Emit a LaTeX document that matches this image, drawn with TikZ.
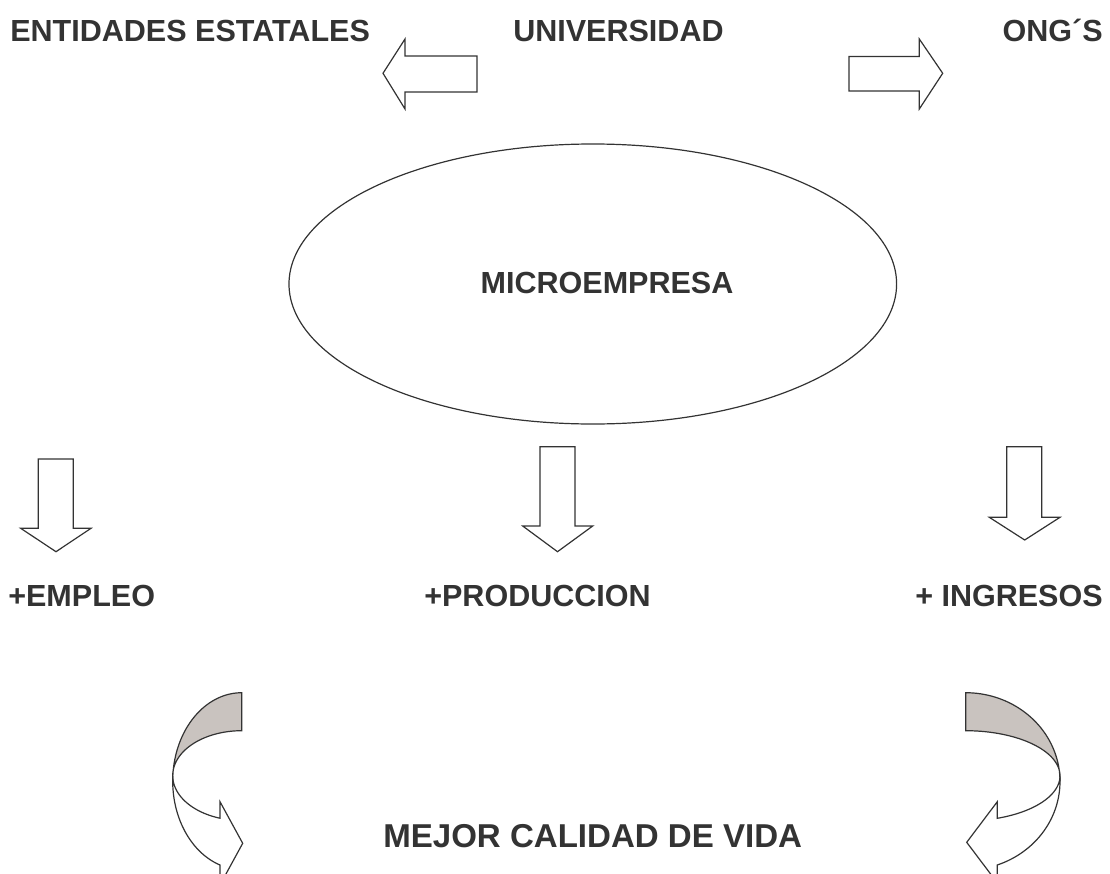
\documentclass[tikz,border=0pt]{standalone}
\usepackage{fontspec}
\setmainfont{Liberation Sans}
\usetikzlibrary{shapes.geometric}
\definecolor{ink}{RGB}{51,51,51}
\definecolor{band}{RGB}{201,195,191}
\tikzset{
  lbl/.style={inner sep=0pt, text=ink, font=\bfseries\fontsize{22.9}{27}\selectfont},
  biglbl/.style={inner sep=0pt, text=ink, font=\bfseries\fontsize{24.8}{30}\selectfont},
  blockarrow/.style={draw=ink, line width=0.9pt, fill=white, line join=miter},
  bandfill/.style={fill=band},
  bandline/.style={draw=ink, line width=0.9pt, fill=white, line join=miter}
}
\begin{document}
\begin{tikzpicture}[x=0.75pt,y=-0.75pt]
\path[use as bounding box] (0,0) rectangle (1110,874);
\clip (0,0) rectangle (1110,874);
% texts
\node[lbl, anchor=base west] (ent) at (10,41.7) {ENTIDADES ESTATALES};
\node[lbl, anchor=base west] (uni) at (513,41.7) {UNIVERSIDAD};
\node[lbl, anchor=base east] (ong) at (1103,41.7) {ONG´S};
\node[draw=ink, line width=0.9pt, ellipse, minimum width=455.7pt, minimum height=210pt, inner sep=0pt] (micro) at (592.8,284) {};
\node[lbl, anchor=base] (microt) at (607,293) {MICROEMPRESA};
\node[lbl, anchor=base west] (emp) at (8,606) {+EMPLEO};
\node[lbl, anchor=base west] (prod) at (424,606) {+PRODUCCION};
\node[lbl, anchor=base east] (ing) at (1103,606) {+ INGRESOS};
\node[biglbl, anchor=base west] (mej) at (383,847) {MEJOR CALIDAD DE VIDA};
% top block arrows
\draw[blockarrow] (477,56) -- (405,56) -- (405,39) -- (383,73.3) -- (405,109) -- (405,92) -- (477,92) -- cycle;
\draw[blockarrow] (849,56.5) -- (919.3,56.5) -- (919.3,39) -- (942.7,73.3) -- (919.3,109) -- (919.3,91) -- (849,91) -- cycle;
% down block arrows
\draw[blockarrow] (38.3,459) -- (73.3,459) -- (73.3,528.3) -- (91,528.3) -- (56,551.7) -- (20.7,528.3) -- (38.3,528.3) -- cycle;
\draw[blockarrow] (540,446.7) -- (575,446.7) -- (575,526) -- (592.7,526) -- (557.5,551.7) -- (522.7,526) -- (540,526) -- cycle;
\draw[blockarrow] (1006.7,446.7) -- (1041.7,446.7) -- (1041.7,517.3) -- (1060,517.3) -- (1024.7,540) -- (989.3,517.3) -- (1006.7,517.3) -- cycle;
% left curved arrow
\path[bandfill] plot[domain=270:180, samples=40, variable=\t] ({241.7+69*cos(\t)},{781.1+88.4*sin(\t)})
  -- plot[domain=180:270, samples=40, variable=\t] ({241.7+69*cos(\t)},{775.6+44.9*sin(\t)}) -- cycle;
\draw[bandline] plot[domain=180:108.33, samples=40, variable=\t] ({241.7+69*cos(\t)},{781.1+88.4*sin(\t)})
  -- (220,884.9) -- (242.7,843.3) -- (220,801.7) --
  plot[domain=108.33:180, samples=40, variable=\t] ({241.7+69*cos(\t)},{775.6+44.9*sin(\t)}) -- cycle;
\draw[draw=ink, line width=0.9pt, line join=miter] plot[domain=180:270, samples=40, variable=\t] ({241.7+69*cos(\t)},{781.1+88.4*sin(\t)})
  -- plot[domain=270:180, samples=40, variable=\t] ({241.7+69*cos(\t)},{775.6+44.9*sin(\t)});
% right curved arrow
\path[bandfill] plot[domain=-90:0, samples=40, variable=\t] ({965.7+94.3*cos(\t)},{781.4+88.7*sin(\t)})
  -- plot[domain=0:-90, samples=40, variable=\t] ({965.7+94.3*cos(\t)},{775.8+45.1*sin(\t)}) -- cycle;
\draw[bandline] plot[domain=0:70.42, samples=40, variable=\t] ({965.7+94.3*cos(\t)},{781.4+88.7*sin(\t)})
  -- (997.3,882.9) -- (966.7,842.3) -- (997.3,801.7) --
  plot[domain=70.42:0, samples=40, variable=\t] ({965.7+94.3*cos(\t)},{775.8+45.1*sin(\t)}) -- cycle;
\draw[draw=ink, line width=0.9pt, line join=miter] plot[domain=0:-90, samples=40, variable=\t] ({965.7+94.3*cos(\t)},{781.4+88.7*sin(\t)})
  -- plot[domain=-90:0, samples=40, variable=\t] ({965.7+94.3*cos(\t)},{775.8+45.1*sin(\t)});
\end{tikzpicture}
\end{document}
